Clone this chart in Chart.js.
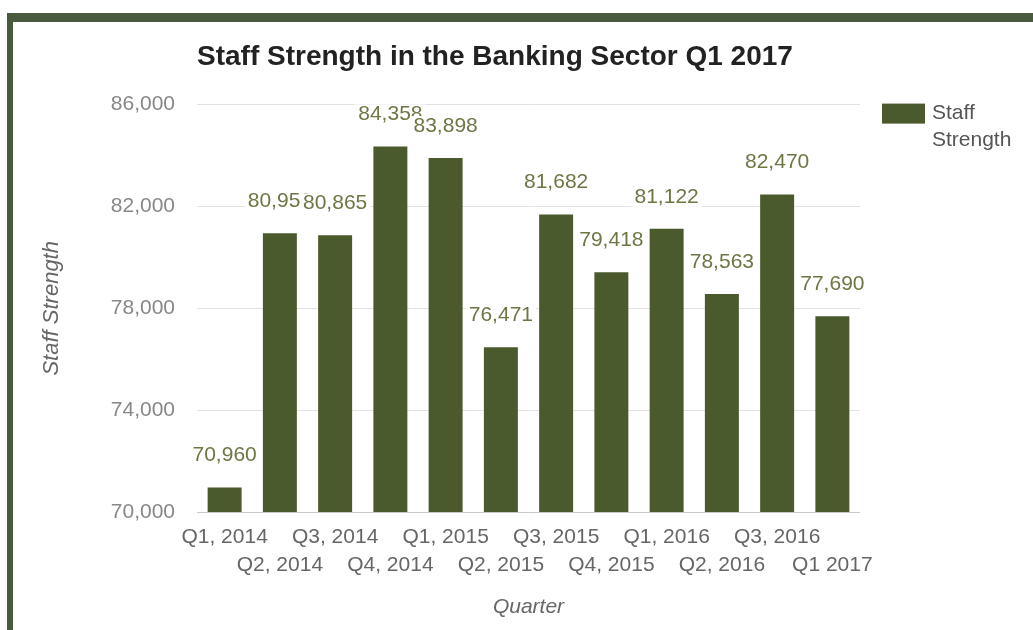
<!DOCTYPE html>
<html>
<head>
<meta charset="utf-8">
<title>Staff Strength in the Banking Sector Q1 2017</title>
<script src="https://cdn.jsdelivr.net/npm/chart.js@4.4.1/dist/chart.umd.min.js"></script>
<style>
  html, body { margin: 0; padding: 0; background: #ffffff; }
  body { width: 1033px; height: 630px; position: relative; overflow: hidden; }
  .frame-top { position: absolute; left: 7px; top: 13px; width: 1026px; height: 9px; background: #4a5a3e; }
  .frame-left { position: absolute; left: 7px; top: 13px; width: 6px; height: 617px; background: #4a5a3e; }
  #chartStaff { position: absolute; left: 13px; top: 22px; }
</style>
</head>
<body>
<div class="frame-top"></div>
<div class="frame-left"></div>
<canvas id="chartStaff" width="1020" height="608"></canvas>
<script>
// Data
const quarters = ['Q1, 2014', 'Q2, 2014', 'Q3, 2014', 'Q4, 2014', 'Q1, 2015', 'Q2, 2015',
  'Q3, 2015', 'Q4, 2015', 'Q1, 2016', 'Q2, 2016', 'Q3, 2016', 'Q1 2017'];
const staffStrength = [70960, 80950, 80865, 84358, 83898, 76471, 81682, 79418, 81122, 78563, 82470, 77690];
const yTicks = [70000, 74000, 78000, 82000, 86000];

const barColor = '#4b5a2c';
const labelColor = '#6d7744';
const fontName = '"Liberation Sans", Arial, sans-serif';

// Value labels above each bar, with a white box like the original
const barLabels = {
  id: 'barLabels',
  afterDatasetsDraw(chart) {
    const ctx = chart.ctx;
    const meta = chart.getDatasetMeta(0);
    ctx.save();
    ctx.font = '21px ' + fontName;
    ctx.textAlign = 'center';
    ctx.textBaseline = 'middle';
    meta.data.forEach((bar, i) => {
      const text = staffStrength[i].toLocaleString('en-US');
      const w = ctx.measureText(text).width;
      const y = bar.y - 32;
      ctx.fillStyle = '#ffffff';
      ctx.fillRect(bar.x - w / 2 - 3, y - 10, w + 6, 20);
      ctx.fillStyle = labelColor;
      ctx.fillText(text, bar.x, y);
    });
    ctx.restore();
  }
};

// Legend on the right, text wrapped on two lines
const sideLegend = {
  id: 'sideLegend',
  afterDraw(chart) {
    const ctx = chart.ctx;
    const area = chart.chartArea;
    const x = area.right + 22;
    const y = area.top - 1;
    ctx.save();
    ctx.fillStyle = barColor;
    ctx.fillRect(x, y, 43, 20);
    ctx.fillStyle = '#555555';
    ctx.font = '21px ' + fontName;
    ctx.textAlign = 'left';
    ctx.textBaseline = 'middle';
    ctx.fillText('Staff', x + 50, y + 10);
    ctx.fillText('Strength', x + 50, y + 37);
    ctx.restore();
  }
};

const ctx = document.getElementById('chartStaff').getContext('2d');
new Chart(ctx, {
  type: 'bar',
  data: {
    labels: quarters,
    datasets: [{
      label: 'Staff Strength',
      data: staffStrength,
      backgroundColor: barColor,
      borderWidth: 0,
      categoryPercentage: 1,
      barPercentage: 0.615
    }]
  },
  options: {
    responsive: false,
    devicePixelRatio: 1,
    animation: false,
    layout: {
      padding: { left: 10, right: 173, top: 0, bottom: 0 }
    },
    plugins: {
      legend: { display: false },
      tooltip: { enabled: false },
      title: {
        display: true,
        text: 'Staff Strength in the Banking Sector Q1 2017',
        align: 'start',
        fullSize: false,
        color: '#222222',
        font: { family: fontName, size: 28, weight: 'bold', lineHeight: 1.2 },
        padding: { top: 18, bottom: 31 }
      }
    },
    scales: {
      x: {
        grid: { display: false },
        border: { display: false },
        ticks: {
          autoSkip: false,
          maxRotation: 0,
          minRotation: 0,
          padding: 3,
          color: '#666666',
          font: { family: fontName, size: 21, lineHeight: 1.333 },
          // staggered labels on two rows
          callback: (value, index) => index % 2 === 0 ? [quarters[index], ''] : ['', quarters[index]]
        },
        title: {
          display: true,
          text: 'Quarter',
          color: '#666666',
          font: { family: fontName, size: 21, style: 'italic', lineHeight: 1.2 },
          padding: { top: 0, bottom: 10 }
        },
        afterFit: (scale) => { scale.height = 118; }
      },
      y: {
        min: yTicks[0],
        max: yTicks[yTicks.length - 1],
        afterBuildTicks: (scale) => { scale.ticks = yTicks.map(v => ({ value: v })); },
        grid: {
          drawTicks: false,
          color: (c) => c.tick && c.tick.value === yTicks[0] ? '#c8c8c8' : '#e2e2e2'
        },
        border: { display: false },
        ticks: {
          padding: 22,
          color: '#888888',
          font: { family: fontName, size: 21 },
          callback: (v) => Number(v).toLocaleString('en-US')
        },
        title: {
          display: true,
          text: 'Staff Strength',
          color: '#666666',
          font: { family: fontName, size: 22, style: 'italic', lineHeight: 1.2 },
          padding: { top: 16, bottom: 0 }
        },
        afterFit: (scale) => { scale.width = 174; }
      }
    }
  },
  plugins: [barLabels, sideLegend]
});
</script>
</body>
</html>
